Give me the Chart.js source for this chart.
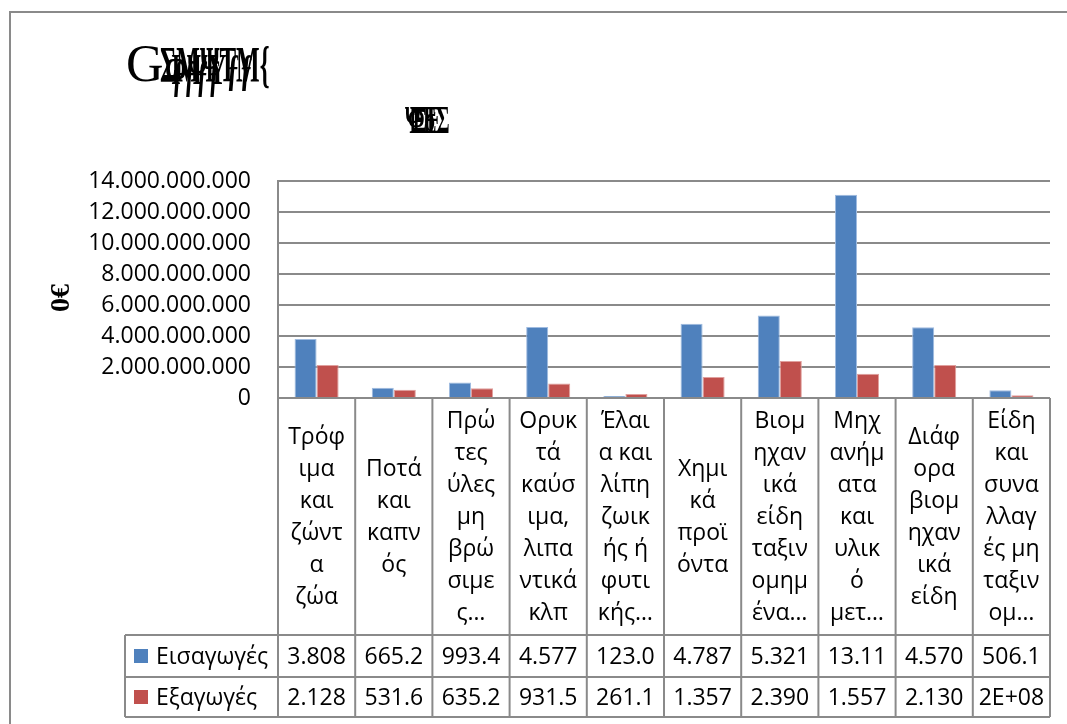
<!DOCTYPE html>
<html>
<head>
<meta charset="utf-8">
<script src="https://cdn.jsdelivr.net/npm/chart.js@4.4.1/dist/chart.umd.min.js"></script>
<style>
html,body{margin:0;padding:0;background:#fff;}
#wrap{width:1067px;height:724px;position:relative;}
</style>
</head>
<body>
<div id="wrap"><canvas id="c" width="1067" height="724"></canvas></div>
<script>
// ---- data ----
const categoryLines = [
  ["Τρόφ","ιμα","και","ζώντ","α","ζώα"],
  ["Ποτά","και","καπν","ός"],
  ["Πρώ","τες","ύλες","μη","βρώ","σιμε","ς…"],
  ["Ορυκ","τά","καύσ","ιμα,","λιπα","ντικά","κλπ"],
  ["Έλαι","α και","λίπη","ζωικ","ής ή","φυτι","κής…"],
  ["Χημι","κά","προϊ","όντα"],
  ["Βιομ","ηχαν","ικά","είδη","ταξιν","ομημ","ένα…"],
  ["Μηχ","ανήμ","ατα","και","υλικ","ό","μετ…"],
  ["Διάφ","ορα","βιομ","ηχαν","ικά","είδη"],
  ["Είδη","και","συνα","λλαγ","ές μη","ταξιν","ομ…"]
];
const seriesNames = ["Εισαγωγές","Εξαγωγές"];
const imports = [3808000000, 665200000, 993400000, 4577000000, 123000000, 4787000000, 5321000000, 13110000000, 4570000000, 506100000];
const exports_ = [2128000000, 531600000, 635200000, 931500000, 261100000, 1357000000, 2390000000, 1557000000, 2130000000, 170000000];
const importsTable = ["3.808","665.2","993.4","4.577","123.0","4.787","5.321","13.11","4.570","506.1"];
const exportsTable = ["2.128","531.6","635.2","931.5","261.1","1.357","2.390","1.557","2.130","2E+08"];
const yTicks = [0, 2000000000, 4000000000, 6000000000, 8000000000, 10000000000, 12000000000, 14000000000];
const yAxisTitle = "0€";
const titleLayers = ["ΣΜΨΤΜ{", "ΦΨYƒƒ", "ƒƒƒƒ"];
const subtitleLayers = ["ΨΈΣ", "ΞΕ", "Φσ"];

const BLUE = "#4F81BD", RED = "#C0504D", GRID = "#8a8a8a";
const FONT = "'Open Sans', sans-serif";

function fmt(v){ return v.toLocaleString('de-DE'); }

const tablePlugin = {
  id: 'tablePlugin',
  afterDraw(chart){
    const ctx = chart.ctx;
    const ca = chart.chartArea;
    const xs = chart.scales.x;
    const n = categoryLines.length;
    const step = (ca.right - ca.left) / n;
    const bounds = [];
    for(let i=0;i<=n;i++) bounds.push(ca.left + step*i);
    const tableLeft = 125, rowTop1 = 635, rowTop2 = 677, tableBottom = 717;
    ctx.save();
    // outer chart border
    ctx.strokeStyle = GRID; ctx.lineWidth = 2;
    ctx.beginPath(); ctx.moveTo(10, 724); ctx.lineTo(10, 12); ctx.lineTo(1067, 12); ctx.stroke();
    // table lines
    ctx.beginPath();
    ctx.moveTo(ca.left, ca.bottom); ctx.lineTo(ca.right, ca.bottom);
    ctx.moveTo(tableLeft, rowTop1); ctx.lineTo(ca.right, rowTop1);
    ctx.moveTo(tableLeft, rowTop2); ctx.lineTo(ca.right, rowTop2);
    ctx.moveTo(tableLeft, tableBottom); ctx.lineTo(ca.right, tableBottom);
    ctx.moveTo(tableLeft, rowTop1); ctx.lineTo(tableLeft, tableBottom);
    for(let i=0;i<=n;i++){
      ctx.moveTo(bounds[i], ca.bottom); ctx.lineTo(bounds[i], tableBottom);
    }
    ctx.stroke();
    // category labels
    ctx.fillStyle = "#000";
    ctx.font = "23px " + FONT;
    ctx.textAlign = "center"; ctx.textBaseline = "middle";
    const cellMid = (ca.bottom + rowTop1)/2;
    const lh = 32;
    for(let i=0;i<n;i++){
      const cx = xs.getPixelForValue(i);
      const lines = categoryLines[i];
      const y0 = cellMid - (lines.length-1)*lh/2;
      lines.forEach((t,k)=> ctx.fillText(t, cx, y0 + k*lh + 1));
      ctx.fillText(importsTable[i], cx, (rowTop1+rowTop2)/2 + 1);
      ctx.fillText(exportsTable[i], cx, (rowTop2+tableBottom)/2 + 1);
    }
    // legend keys
    ctx.textAlign = "left";
    ctx.fillStyle = BLUE; ctx.fillRect(134, 649, 14, 14);
    ctx.fillStyle = RED; ctx.fillRect(134, 690, 14, 14);
    ctx.fillStyle = "#000";
    ctx.fillText(seriesNames[0], 156, (rowTop1+rowTop2)/2 + 1);
    ctx.fillText(seriesNames[1], 156, (rowTop2+tableBottom)/2 + 1);
    // title (garbled glyph rendering in original)
    ctx.textAlign = "left"; ctx.textBaseline = "alphabetic";
    ctx.font = "52px 'Liberation Serif', serif";
    ctx.fillText("G", 126, 81);
    ctx.font = "bold 50px 'Liberation Serif', serif";
    ctx.save(); ctx.translate(160, 81); ctx.scale(0.5, 1); ctx.fillText(titleLayers[0], 0, 0); ctx.restore();
    ctx.font = "bold 44px 'Liberation Serif', serif";
    ctx.save(); ctx.translate(165, 84); ctx.scale(0.6, 1); ctx.fillText(titleLayers[1], 0, 0); ctx.restore();
    ctx.save(); ctx.translate(172, 90); ctx.scale(0.55, 1); ctx.fillText(titleLayers[2], 0, 0); ctx.restore();
    // subtitle
    ctx.font = "bold 40px 'Liberation Serif', serif";
    ctx.save(); ctx.translate(405, 133); ctx.scale(0.5, 1); ctx.fillText(subtitleLayers[0], 0, 0); ctx.restore();
    ctx.save(); ctx.translate(412, 133); ctx.scale(0.55, 1); ctx.fillText(subtitleLayers[1], 0, 0); ctx.restore();
    ctx.save(); ctx.translate(408, 131); ctx.scale(0.5, 0.9); ctx.fillText(subtitleLayers[2], 0, 0); ctx.restore();
    // y axis title
    ctx.font = "bold 28px 'Liberation Serif', serif";
    ctx.save(); ctx.translate(62, 298); ctx.rotate(-Math.PI/2);
    ctx.textAlign = "center"; ctx.textBaseline = "middle";
    ctx.fillText(yAxisTitle, 0, 0);
    ctx.restore();
    ctx.restore();
  }
};

new Chart(document.getElementById('c'), {
  type: 'bar',
  data: {
    labels: categoryLines.map(l => l.join('')),
    datasets: [
      { label: seriesNames[0], data: imports, backgroundColor: BLUE, borderColor: "#9fbbe0", borderWidth: 1 },
      { label: seriesNames[1], data: exports_, backgroundColor: RED, borderColor: "#e0a09e", borderWidth: 1 }
    ]
  },
  options: {
    responsive: false,
    animation: false,
    layout: { padding: { left: 0, top: 181, right: 17, bottom: 7 } },
    plugins: { legend: { display: false }, tooltip: { enabled: false }, title: { display: false } },
    datasets: { bar: { barPercentage: 1, categoryPercentage: 0.571 } },
    scales: {
      x: {
        ticks: { display: false },
        grid: { display: false, drawTicks: false },
        border: { display: false },
        afterFit(s){ s.height = 319; }
      },
      y: {
        min: 0, max: 14000000000,
        afterBuildTicks(s){ s.ticks = yTicks.map(v => ({ value: v })); },
        ticks: { color: "#000", font: { family: FONT, size: 23 }, padding: 27, callback: v => fmt(v) },
        grid: { color: GRID, lineWidth: 2, drawTicks: false },
        border: { display: true, color: GRID, width: 2 },
        afterFit(s){ s.width = 278; }
      }
    }
  },
  plugins: [tablePlugin]
});
</script>
</body>
</html>
